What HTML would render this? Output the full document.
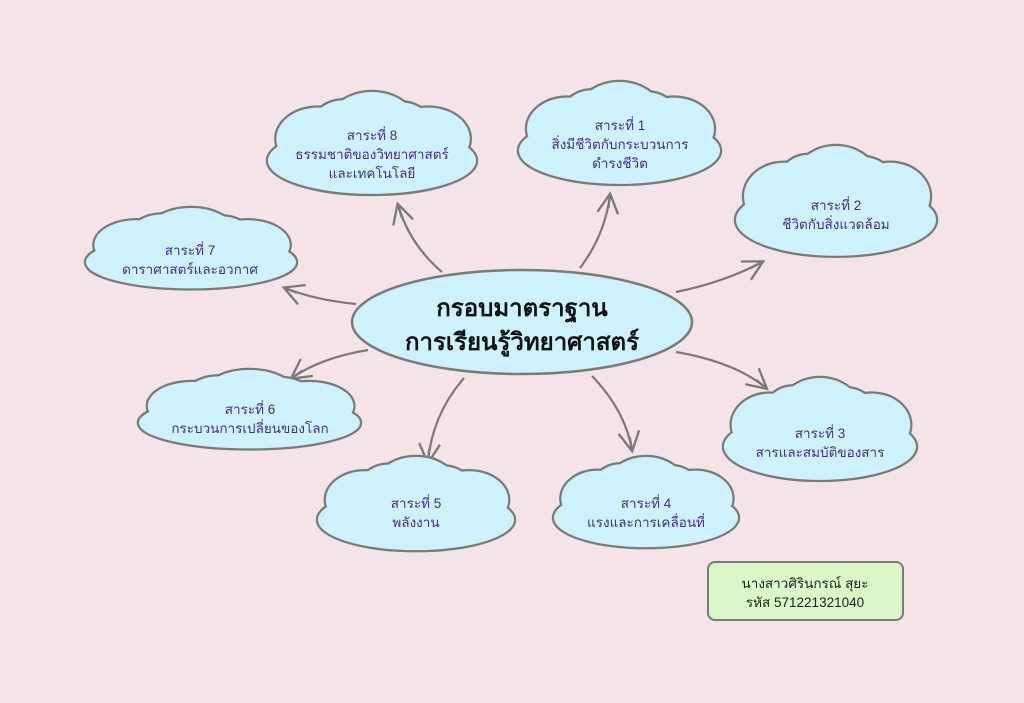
<!DOCTYPE html>
<html><head><meta charset="utf-8"><style>
html,body{margin:0;padding:0;background:#f4e4e8;}
svg{display:block}
text{font-family:"Liberation Sans","DejaVu Sans",sans-serif;}
</style></head><body>
<svg id="s" width="1024" height="703" viewBox="0 0 1024 703" xmlns="http://www.w3.org/2000/svg">
<rect width="1024" height="703" fill="#f4e4e8"/>
<defs>
<marker id="a" viewBox="0 0 20 20" refX="16" refY="10" markerWidth="26" markerHeight="26" markerUnits="userSpaceOnUse" orient="auto">
<path d="M2 2 L17 10 L2 18 M6 10 L17 10" fill="none" stroke="#7a7a7a" stroke-width="1.8"/>
</marker>
</defs>
<g fill="none" stroke="#7a7a7a" stroke-width="2.2" marker-end="url(#a)">
<path d="M442 272 Q410 245 398 205"/>
<path d="M580 268 Q605 235 610 195"/>
<path d="M676 292 Q725 282 762 262"/>
<path d="M356 304 Q315 300 285 288"/>
<path d="M368 350 Q320 358 292 378"/>
<path d="M464 378 Q432 415 428 462"/>
<path d="M592 376 Q625 410 632 450"/>
<path d="M676 352 Q735 362 766 388"/>
</g>
<g id="clouds"></g>
<ellipse cx="522" cy="322" rx="170" ry="52" fill="#cdf2fb" stroke="#7a7a7a" stroke-width="2.5"/>
<text x="522" y="316" text-anchor="middle" font-size="24" font-weight="bold" fill="#111">กรอบมาตราฐาน</text>
<text x="522" y="350" text-anchor="middle" font-size="24" font-weight="bold" fill="#111">การเรียนรู้วิทยาศาสตร์</text>
<rect x="708" y="562" width="195" height="58" rx="7" fill="#d9f7c8" stroke="#7a7a7a" stroke-width="2"/>
<text x="805" y="588" text-anchor="middle" font-size="13.5" fill="#222">นางสาวศิรินกรณ์  สุยะ</text>
<text x="805" y="607" text-anchor="middle" font-size="13.5" fill="#222">รหัส 571221321040</text>
<g id="labels" font-size="13.5" fill="#4b2a8a" text-anchor="middle"></g>
</svg>
<script>
var C=[
[268,92,208,104,["สาระที่ 8","ธรรมชาติของวิทยาศาสตร์","และเทคโนโลยี"],372,140],
[519,82,201,104,["สาระที่ 1","สิ่งมีชีวิตกับกระบวนการ","ดำรงชีวิต"],620,130],
[736,146,200,112,["สาระที่ 2","ชีวิตกับสิ่งแวดล้อม"],836,210],
[86,208,210,82,["สาระที่ 7","ดาราศาสตร์และอวกาศ"],190,255],
[139,370,221,80,["สาระที่ 6","กระบวนการเปลี่ยนของโลก"],250,414],
[318,457,196,95,["สาระที่ 5","พลังงาน"],416,508],
[554,457,184,92,["สาระที่ 4","แรงและการเคลื่อนที่"],646,508],
[724,378,192,104,["สาระที่ 3","สารและสมบัติของสาร"],820,438]];
var sh=[[.5,.66,.5,.32],[.24,.45,.2,.3],[.5,.35,.22,.35],[.77,.45,.2,.3],[.36,.38,.16,.3],[.64,.4,.16,.3]];
var ns="http://www.w3.org/2000/svg",g=document.getElementById("clouds"),L=document.getElementById("labels");
function layer(c,stroke){sh.forEach(function(s){var e=document.createElementNS(ns,"ellipse");
e.setAttribute("cx",c[0]+s[0]*c[2]);e.setAttribute("cy",c[1]+s[1]*c[3]);
e.setAttribute("rx",s[2]*c[2]);e.setAttribute("ry",s[3]*c[3]);
e.setAttribute("fill",stroke?"#7a7a7a":"#cdf2fb");
if(stroke){e.setAttribute("stroke","#7a7a7a");e.setAttribute("stroke-width","4.5");}
g.appendChild(e);});}
C.forEach(function(c){layer(c,true);});
C.forEach(function(c){layer(c,false);
c[4].forEach(function(t,i){var x=document.createElementNS(ns,"text");x.setAttribute("x",c[5]);x.setAttribute("y",c[6]+i*19);x.textContent=t;L.appendChild(x);});});
</script>
</body></html>
